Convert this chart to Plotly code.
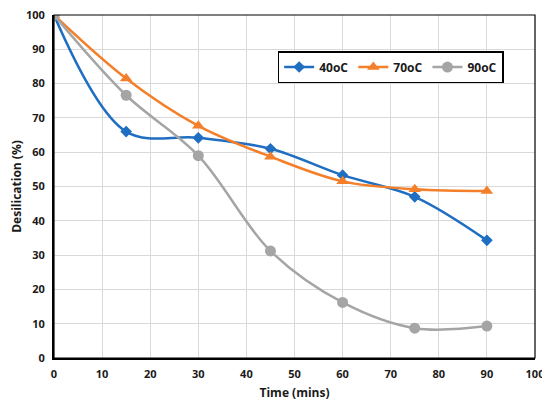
import plotly.graph_objects as go

time = [0, 15, 30, 45, 60, 75, 90]
s40 = [100, 66.0, 64.2, 61.0, 53.3, 47.0, 34.3]
s70 = [100, 81.5, 67.7, 58.7, 51.5, 49.2, 48.7]
s90 = [100, 76.6, 59.0, 31.2, 16.2, 8.7, 9.3]

FONT = "Open Sans"
fig = go.Figure()
fig.add_trace(go.Scatter(x=time, y=s40, name="40oC", mode="lines+markers",
                         line=dict(color="#1F6EC1", width=2.5, shape="spline", smoothing=1.0),
                         marker=dict(symbol="diamond", size=9, color="#1F6EC1")))
fig.add_trace(go.Scatter(x=time, y=s70, name="70oC", mode="lines+markers",
                         line=dict(color="#F47F2A", width=2.5, shape="spline", smoothing=1.0),
                         marker=dict(symbol="triangle-up", size=11, color="#F47F2A")))
fig.add_trace(go.Scatter(x=time, y=s90, name="90oC", mode="lines+markers",
                         line=dict(color="#A5A5A5", width=2.5, shape="spline", smoothing=1.0),
                         marker=dict(symbol="circle", size=11, color="#A5A5A5")))

fig.update_layout(
    width=542, height=401,
    margin=dict(l=46, r=15, t=7, b=51),
    paper_bgcolor="white", plot_bgcolor="white",
    font=dict(family=FONT, size=11, color="#1a1a1a"),
    showlegend=True,
    legend=dict(orientation="h", x=0.465, y=0.895, xanchor="left", yanchor="top",
                bordercolor="black", borderwidth=1.5, bgcolor="white",
                font=dict(family=FONT, size=12, color="#1a1a1a", weight="bold"),
                itemwidth=30, tracegroupgap=0),
    xaxis=dict(range=[0, 100], dtick=10, showgrid=True, gridcolor="#D9D9D9", gridwidth=1,
               showline=True, linecolor="black", linewidth=2, ticks="outside", ticklen=5,
               tickcolor="rgba(0,0,0,0)", ticklabeloverflow="allow",
               tickfont=dict(family=FONT, size=11, weight="bold"),
               title=dict(text="Time (mins)", font=dict(family=FONT, size=12, weight="bold"), standoff=8),
               zeroline=False, automargin=False),
    yaxis=dict(range=[0, 100], dtick=10, showgrid=True, gridcolor="#D9D9D9", gridwidth=1,
               showline=True, linecolor="black", linewidth=2, ticks="outside", ticklen=5,
               tickcolor="rgba(0,0,0,0)", ticklabeloverflow="allow",
               tickfont=dict(family=FONT, size=11, weight="bold"),
               title=dict(text="Desilication (%)", font=dict(family=FONT, size=12, weight="bold"), standoff=10),
               zeroline=False, automargin=False),
    shapes=[dict(type="rect", xref="paper", yref="paper", x0=0, y0=0, x1=1, y1=1,
                 line=dict(color="black", width=1.2), layer="above")],
)

fig.write_html("out.html")
